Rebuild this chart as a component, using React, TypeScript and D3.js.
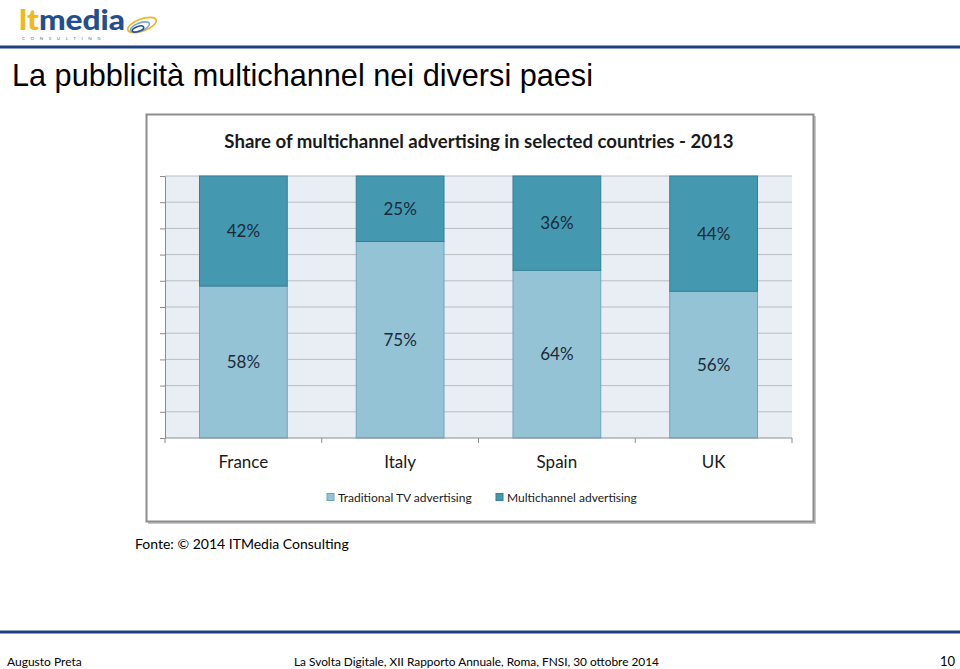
import { useEffect, useRef } from 'react'
import * as d3 from 'd3'

const countries = ['France', 'Italy', 'Spain', 'UK']
const traditionalTV = [58, 75, 64, 56]
const multichannel = [42, 25, 36, 44]
const seriesNames = ['Traditional TV advertising', 'Multichannel advertising']
const seriesColors = ['#93C3D5', '#4499B0']
const yTicks = [0, 10, 20, 30, 40, 50, 60, 70, 80, 90, 100]

const CHART_FONT = 'Lato, "Open Sans", sans-serif'

export default function App() {
  const ref = useRef<SVGSVGElement>(null)

  useEffect(() => {
    const svg = d3.select(ref.current)
    svg.selectAll('*').remove()

    // slide frame
    svg.append('rect').attr('width', 960).attr('height', 669).attr('fill', '#fff')

    // logo
    const logo = svg.append('g')
    const lt = logo.append('text')
      .attr('x', 19).attr('y', 30)
      .attr('font-family', 'Lato, sans-serif').attr('font-weight', 900)
      .attr('font-size', 29)
      .attr('textLength', 106).attr('lengthAdjust', 'spacingAndGlyphs')
    lt.append('tspan').attr('fill', '#F0B81C').text('lt')
    lt.append('tspan').attr('fill', '#244F8E').text('media')
    logo.append('text')
      .attr('x', 22).attr('y', 40)
      .attr('font-family', 'Lato, sans-serif').attr('font-size', 4.5)
      .attr('letter-spacing', 5.6).attr('fill', '#5A6E8C')
      .text('CONSULTING')
    const swirls = [[142, 25, 15, 6, '#F0B81C'], [140, 27, 10, 4, '#7FA7D0'], [138, 29, 6, 2.5, '#244F8E']]
    swirls.forEach(([cx, cy, rx, ry, c]) => {
      logo.append('ellipse')
        .attr('cx', cx as number).attr('cy', cy as number)
        .attr('rx', rx as number).attr('ry', ry as number)
        .attr('transform', `rotate(-20 ${cx} ${cy})`)
        .attr('fill', 'none').attr('stroke', c as string).attr('stroke-width', 1.6)
    })

    // rules
    svg.append('rect').attr('x', 0).attr('y', 45.5).attr('width', 960).attr('height', 3).attr('fill', '#1E3F7C')
    svg.append('rect').attr('x', 0).attr('y', 630.5).attr('width', 960).attr('height', 3).attr('fill', '#1E3F7C')

    // slide title
    svg.append('text')
      .attr('x', 12).attr('y', 86)
      .attr('font-family', '"Liberation Sans", Arial, sans-serif')
      .attr('font-size', 32)
      .attr('textLength', 581).attr('lengthAdjust', 'spacingAndGlyphs')
      .attr('fill', '#000')
      .text('La pubblicità multichannel nei diversi paesi')

    // chart box
    svg.append('rect')
      .attr('x', 148).attr('y', 116).attr('width', 668).attr('height', 408)
      .attr('fill', '#C8C8C8')
    svg.append('rect')
      .attr('x', 146.5).attr('y', 114.5).attr('width', 667).attr('height', 407)
      .attr('fill', '#fff').attr('stroke', '#8C8C8C').attr('stroke-width', 2)

    svg.append('text')
      .attr('x', 479).attr('y', 148)
      .attr('text-anchor', 'middle')
      .attr('font-family', CHART_FONT).attr('font-weight', 700)
      .attr('font-size', 18.6).attr('fill', '#1A1A1A')
      .text('Share of multichannel advertising in selected countries - 2013')

    const left = 165, right = 792, top = 176, bottom = 438
    const x = d3.scaleBand<string>().domain(countries).range([left, right])
      .paddingInner(0.44).paddingOuter(0.22)
    const y = d3.scaleLinear().domain([0, 100]).range([bottom, top])

    svg.append('rect')
      .attr('x', left).attr('y', top).attr('width', right - left).attr('height', bottom - top)
      .attr('fill', '#E9EEF4')

    // gridlines
    svg.append('g').selectAll('line')
      .data(yTicks.slice(1))
      .join('line')
      .attr('x1', left).attr('x2', right)
      .attr('y1', d => y(d)).attr('y2', d => y(d))
      .attr('stroke', '#B9BDC2').attr('stroke-width', 1)

    // y axis (ticks only, no labels)
    const yAxis = svg.append('g')
      .attr('transform', `translate(${left},0)`)
      .call(d3.axisLeft(y).tickValues(yTicks).tickSize(5).tickFormat(() => ''))
    yAxis.select('.domain').attr('stroke', '#8C8C8C')
    yAxis.selectAll('.tick line').attr('stroke', '#8C8C8C')

    // stacked bars
    const rows = countries.map((c, i) => ({ country: c, tv: traditionalTV[i], multi: multichannel[i] }))
    const stack = d3.stack<{ country: string; tv: number; multi: number }>().keys(['tv', 'multi'])
    const layers = stack(rows as any)

    layers.forEach((layer, li) => {
      const g = svg.append('g')
      g.selectAll('rect')
        .data(layer)
        .join('rect')
        .attr('x', d => x(d.data.country)!)
        .attr('width', x.bandwidth())
        .attr('y', d => y(d[1]))
        .attr('height', d => y(d[0]) - y(d[1]))
        .attr('fill', seriesColors[li])
        .attr('stroke', li === 0 ? '#6FA6BA' : '#357F94')
        .attr('stroke-width', 1)
      g.selectAll('text')
        .data(layer)
        .join('text')
        .attr('x', d => x(d.data.country)! + x.bandwidth() / 2)
        .attr('y', d => (y(d[0]) + y(d[1])) / 2)
        .attr('dy', '0.36em')
        .attr('text-anchor', 'middle')
        .attr('font-family', CHART_FONT).attr('font-size', 17)
        .attr('fill', '#1B2A3A')
        .text(d => `${d[1] - d[0]}%`)
    })

    // category axis
    const xAxis = svg.append('g')
      .attr('transform', `translate(0,${bottom})`)
    xAxis.append('line')
      .attr('x1', left).attr('x2', right)
      .attr('stroke', '#8C8C8C')
    const bounds = [left, ...countries.map(c => x(c)! + x.bandwidth() + (x.step() - x.bandwidth()) / 2)]
    xAxis.selectAll('line.tk')
      .data(bounds)
      .join('line')
      .attr('class', 'tk')
      .attr('x1', d => d).attr('x2', d => d)
      .attr('y1', 0).attr('y2', 5)
      .attr('stroke', '#8C8C8C')
    xAxis.selectAll('text')
      .data(countries)
      .join('text')
      .attr('x', d => x(d)! + x.bandwidth() / 2)
      .attr('y', 30)
      .attr('text-anchor', 'middle')
      .attr('font-family', CHART_FONT).attr('font-size', 17)
      .attr('fill', '#1A1A1A')
      .text(d => d)

    // legend
    const legendX = [327, 496]
    seriesNames.forEach((name, i) => {
      svg.append('rect')
        .attr('x', legendX[i]).attr('y', 493.5).attr('width', 7).attr('height', 7)
        .attr('fill', seriesColors[i])
        .attr('stroke', i === 0 ? '#6FA6BA' : '#357F94')
      svg.append('text')
        .attr('x', legendX[i] + 11).attr('y', 501.5)
        .attr('font-family', CHART_FONT).attr('font-size', 12)
        .attr('fill', '#1A1A1A')
        .text(name)
    })

    // source & footer
    svg.append('text')
      .attr('x', 135).attr('y', 549)
      .attr('font-family', CHART_FONT).attr('font-size', 14)
      .attr('fill', '#000')
      .text('Fonte: © 2014 ITMedia Consulting')
    svg.append('text')
      .attr('x', 7).attr('y', 666)
      .attr('font-family', CHART_FONT).attr('font-size', 12)
      .text('Augusto Preta')
    svg.append('text')
      .attr('x', 294).attr('y', 666)
      .attr('font-family', CHART_FONT).attr('font-size', 12)
      .attr('textLength', 365).attr('lengthAdjust', 'spacingAndGlyphs')
      .text('La Svolta Digitale, XII Rapporto Annuale, Roma, FNSI, 30 ottobre 2014')
    svg.append('text')
      .attr('x', 955).attr('y', 666)
      .attr('text-anchor', 'end')
      .attr('font-family', CHART_FONT).attr('font-size', 13)
      .text('10')
  }, [])

  return (
    <svg ref={ref} width={960} height={669}
      style={{ position: 'absolute', left: 0, top: 0, display: 'block' }} />
  )
}
